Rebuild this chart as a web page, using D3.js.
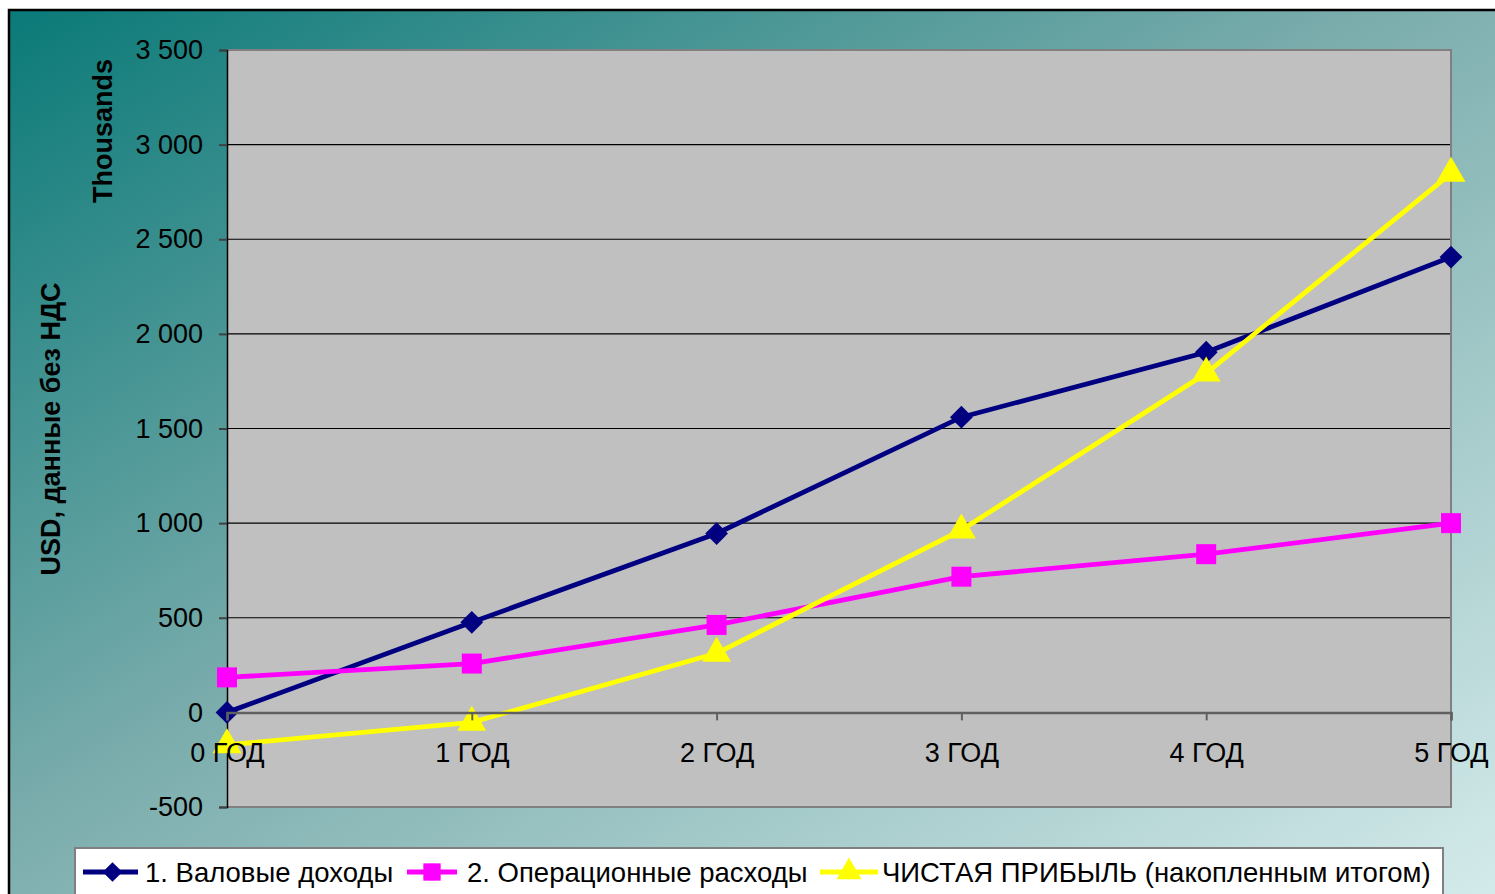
<!DOCTYPE html>
<html><head><meta charset="utf-8">
<script src="https://cdn.jsdelivr.net/npm/d3@7"></script>
<style>body{margin:0;background:#fff;overflow:hidden}svg{display:block}svg text{font-family:"Liberation Sans",Arial,sans-serif}</style>
</head><body><svg id="c" width="1495" height="894"></svg>
<script>
const categories = ["0 ГОД","1 ГОД","2 ГОД","3 ГОД","4 ГОД","5 ГОД"];
const revenue = [0, 476, 945, 1560, 1903, 2406];
const expenses = [185, 258, 462, 717, 836, 1000];
const netProfit = [-172, -53, 312, 963, 1792, 2848];
const seriesNames = ["1. Валовые доходы","2. Операционные расходы","ЧИСТАЯ ПРИБЫЛЬ (накопленным итогом)"];
const yTicks = [-500,0,500,1000,1500,2000,2500,3000,3500];

const FF = "Liberation Sans, Arial, sans-serif";
const svg = d3.select("#c");
const defs = svg.append("defs");
const g = defs.append("linearGradient").attr("id","bg").attr("x1","0").attr("y1","0").attr("x2","1").attr("y2","1");
g.append("stop").attr("offset","0").attr("stop-color","#0a7a78");
g.append("stop").attr("offset","0.45").attr("stop-color","#7aacac");
g.append("stop").attr("offset","1").attr("stop-color","#d6ecec");
svg.append("rect").attr("x",9).attr("y",10).attr("width",1500).attr("height",900).attr("fill","url(#bg)").attr("stroke","#000").attr("stroke-width",2.5);

const L=227,R=1451,T=50,B=807;
const x = d3.scalePoint().domain(categories).range([L,R]).padding(0);
const y = d3.scaleLinear().domain([-500,3500]).range([B,T]);

svg.append("rect").attr("x",L).attr("y",T).attr("width",R-L).attr("height",B-T).attr("fill","#c0c0c0");
svg.append("g").selectAll("line").data(yTicks.filter(d=>d!==0 && d!==-500 && d!==3500)).join("line")
  .attr("x1",L).attr("x2",R).attr("y1",d=>y(d)).attr("y2",d=>y(d)).attr("stroke","#000").attr("stroke-width",1.2);
svg.append("path").attr("d",`M${L},${T}H${R}V${B}H${L}`).attr("fill","none").attr("stroke","#808080").attr("stroke-width",2);

const fmt = d => d3.format(",")(d).replace(/,/g," ").replace("−","-");
const ya = svg.append("g").attr("transform",`translate(${L},0)`).call(d3.axisLeft(y).tickValues(yTicks).tickSize(8).tickPadding(16).tickFormat(fmt));
ya.select(".domain").attr("stroke","#000").attr("stroke-width",1.5);
ya.selectAll(".tick line").attr("stroke","#404040").attr("stroke-width",2);
ya.selectAll("text").attr("font-size",27).attr("fill","#000").attr("font-family",FF);

const xa = svg.append("g").attr("transform",`translate(0,${y(0)})`).call(d3.axisBottom(x).tickSize(8).tickPadding(22));
xa.select(".domain").attr("stroke","#606060").attr("stroke-width",2.5);
xa.selectAll(".tick line").attr("stroke","#606060").attr("stroke-width",2);
xa.selectAll("text").attr("font-size",27).attr("fill","#000").attr("font-family",FF);

svg.append("text").attr("transform","translate(60,429) rotate(-90)").attr("text-anchor","middle").attr("font-family",FF)
  .attr("font-size",27).attr("font-weight","bold").text("USD, данные без НДС");
svg.append("text").attr("transform","translate(112,131) rotate(-90)").attr("text-anchor","middle").attr("font-family",FF)
  .attr("font-size",27).attr("font-weight","bold").text("Thousands");

const line = d3.line().x((d,i)=>x(categories[i])).y(d=>y(d));
const colors = ["#000080","#ff00ff","#ffff00"];
const data = [revenue, expenses, netProfit];
const symbols = [d3.symbolSquare, d3.symbolSquare, d3.symbolTriangle];
const sizes = [260, 400, 360];
const rot = [45, 0, 0];

data.forEach((s,k)=>{
  svg.append("path").attr("d",line(s)).attr("fill","none").attr("stroke",colors[k]).attr("stroke-width",4.8);
});
data.forEach((s,k)=>{
  svg.append("g").selectAll("path").data(s).join("path")
    .attr("transform",(d,i)=>`translate(${x(categories[i])},${y(d)}) rotate(${rot[k]})`)
    .attr("d",d3.symbol(symbols[k],sizes[k])).attr("fill",colors[k]);
});
xa.raise();

svg.append("rect").attr("x",75).attr("y",848).attr("width",1368).attr("height",60).attr("fill","#fff").attr("stroke","#808080").attr("stroke-width",2);
const legItems = [{x0:83,x1:138,tx:145},{x0:407,x1:457,tx:467},{x0:820,x1:878,tx:882}];
legItems.forEach((it,k)=>{
  const ly=872;
  svg.append("line").attr("x1",it.x0).attr("x2",it.x1).attr("y1",ly).attr("y2",ly).attr("stroke",colors[k]).attr("stroke-width",4.8);
  svg.append("path").attr("transform",`translate(${(it.x0+it.x1)/2+(k===0?2:0)},${ly}) rotate(${rot[k]})`).attr("d",d3.symbol(symbols[k],sizes[k]*0.75)).attr("fill",colors[k]);
  svg.append("text").attr("x",it.tx).attr("y",ly+10).attr("font-size",27.5).attr("font-family",FF).text(seriesNames[k]);
});
</script></body></html>
